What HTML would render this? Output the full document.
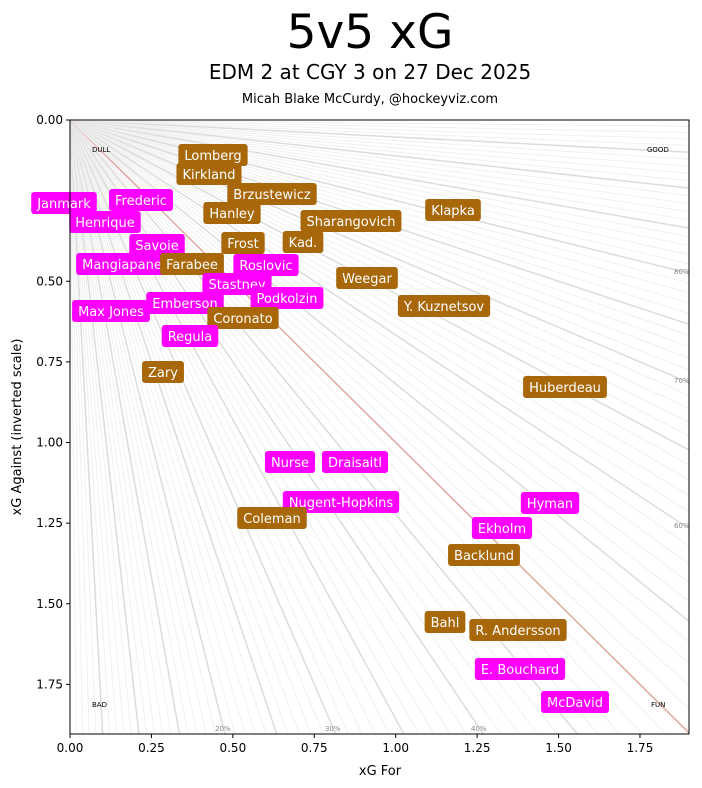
<!DOCTYPE html>
<html><head><meta charset="utf-8"><style>
html,body{margin:0;padding:0;background:#fff;width:702px;height:788px;overflow:hidden;font-family:"DejaVu Sans","Liberation Sans",sans-serif;}
svg{display:block}
</style></head><body>
<svg id="s" width="702" height="788" xmlns="http://www.w3.org/2000/svg" font-family="DejaVu Sans, Liberation Sans, sans-serif">
<rect width="702" height="788" fill="#fff"/>
<text x="370" y="48" font-size="47" text-anchor="middle">5v5 xG</text>
<text x="370" y="79" font-size="20" text-anchor="middle">EDM 2 at CGY 3 on 27 Dec 2025</text>
<text x="370" y="103" font-size="13" text-anchor="middle">Micah Blake McCurdy, @hockeyviz.com</text>
<g id="fan"></g>
<g font-size="7">
<text x="92" y="152">DULL</text><text x="647" y="152">GOOD</text>
<text x="92" y="707">BAD</text><text x="651" y="707">FUN</text>
<g fill="#888"><text x="215" y="731">20%</text><text x="325" y="731">30%</text><text x="471" y="731">40%</text>
<text x="674" y="528">60%</text><text x="674" y="383">70%</text><text x="674" y="274">80%</text></g>
</g>
<g id="ax" font-size="12"></g>
<g id="lab" font-size="13" fill="#fff"></g>
<rect x="70" y="120" width="619" height="614" fill="none" stroke="#000" stroke-width="1"/>
<text x="380" y="775" font-size="13" text-anchor="middle">xG For</text>
<text transform="translate(21,427) rotate(-90)" font-size="13" text-anchor="middle">xG Against (inverted scale)</text>
</svg>
<script>
var NS="http://www.w3.org/2000/svg",X0=70,Y0=120,SX=325.7,SY=322.5;
function el(t,a,p,txt){var e=document.createElementNS(NS,t);for(var k in a)e.setAttribute(k,a[k]);if(txt!=null)e.textContent=txt;p.appendChild(e);return e;}
var fan=document.getElementById('fan');
for(var i=1;i<100;i++){var p=i/100;var gx=p,ga=1-p;var L=Math.min(619/SX/gx,614/SY/ga);
var x2=X0+gx*L*SX,y2=Y0+ga*L*SY;var col,w;
if(i==50){col="#e0a8a0";w=1.5;}else if(i%5==0){col="#dcdcdc";w=1.5;}else{col="#f0f0f0";w=1;}
el('line',{x1:X0,y1:Y0,x2:x2,y2:y2,stroke:col,'stroke-width':w},fan);}
var ax=document.getElementById('ax');
var t=[0,0.25,0.5,0.75,1,1.25,1.5,1.75];
t.forEach(function(v){var x=X0+v*SX;el('line',{x1:x,y1:734,x2:x,y2:738,stroke:'#000'},ax);
el('text',{x:x,y:752,'text-anchor':'middle'},ax,v.toFixed(2));
var y=Y0+v*SY;el('line',{x1:66,y1:y,x2:70,y2:y,stroke:'#000'},ax);
el('text',{x:63,y:y+4,'text-anchor':'end'},ax,v.toFixed(2));});
var B="#a8680a",M="#ff00ff";
var L=[["Janmark",64,203,M],["Frederic",141,200,M],["Henrique",105,222,M],["Lomberg",213,155,B],["Kirkland",209,174,B],["Brzustewicz",272,194,B],["Hanley",232,213,B],["Sharangovich",351,221,B],["Klapka",453,210,B],["Kad.",303,242,B],["Frost",243,243,B],["Savoie",157,245,M],["Mangiapane",122,264,M],["Farabee",192,264,B],["Roslovic",266,265,M],["Weegar",367,278,B],["Stastney",237,284,M],["Podkolzin",287,298,M],["Y. Kuznetsov",444,306,B],["Max Jones",111,311,M],["Emberson",185,303,M],["Coronato",243,318,B],["Regula",190,336,M],["Zary",163,372,B],["Huberdeau",565,387,B],["Nurse",290,462,M],["Draisaitl",355,462,M],["Nugent-Hopkins",341,502,M],["Coleman",272,518,B],["Hyman",550,503,M],["Ekholm",502,528,M],["Backlund",484,555,B],["Bahl",445,622,B],["R. Andersson",518,630,B],["E. Bouchard",520,669,M],["McDavid",575,702,M]];
var lab=document.getElementById('lab');
L.forEach(function(d){var g=el('g',{},lab);var tx=el('text',{x:d[1],y:d[2]+5,'text-anchor':'middle'},g,d[0]);
var w=tx.getComputedTextLength()+12;var r=el('rect',{x:d[1]-w/2,y:d[2]-11,width:w,height:22,rx:3,fill:d[3]},g);g.insertBefore(r,tx);});
</script>
</body></html>
